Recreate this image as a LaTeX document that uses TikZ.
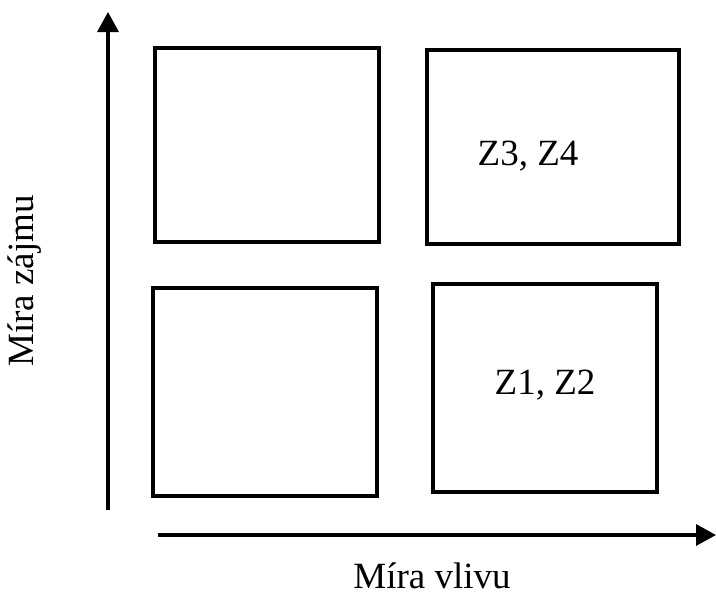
\documentclass[tikz,border=0pt]{standalone}
\usepackage{fontspec}
\setmainfont{Liberation Serif}
\usetikzlibrary{arrows.meta}
\begin{document}
\begin{tikzpicture}[x=1pt,y=-1pt,
  quad/.style={draw,line width=3.3pt},
  axis/.style={line width=3.3pt,-{Triangle[length=20pt,width=21pt]}},
  lbl/.style={font=\fontsize{37}{42}\selectfont,inner sep=0pt}]
\useasboundingbox (0,0) rectangle (716,592);
\draw[quad] (155,48) rectangle (379,242);
\draw[quad] (427,50) rectangle (679,244);
\draw[quad] (153,288) rectangle (377,496);
\draw[quad] (433,284) rectangle (657,492);
\node[lbl,anchor=base] (z34) at (528,165) {Z3, Z4};
\node[lbl,anchor=base] (z12) at (545,394) {Z1, Z2};
\coordinate (ybot) at (108,510);
\coordinate (ytop) at (108,12);
\coordinate (xl) at (158,535);
\coordinate (xr) at (716,535);
\draw[axis] (ybot) -- (ytop);
\draw[axis] (xl) -- (xr);
\node[lbl,anchor=base] (xlab) at (432,588) {Míra vlivu};
\node[lbl,anchor=base,rotate=90] (ylab) at (34,281) {Míra zájmu};
\end{tikzpicture}
\end{document}
